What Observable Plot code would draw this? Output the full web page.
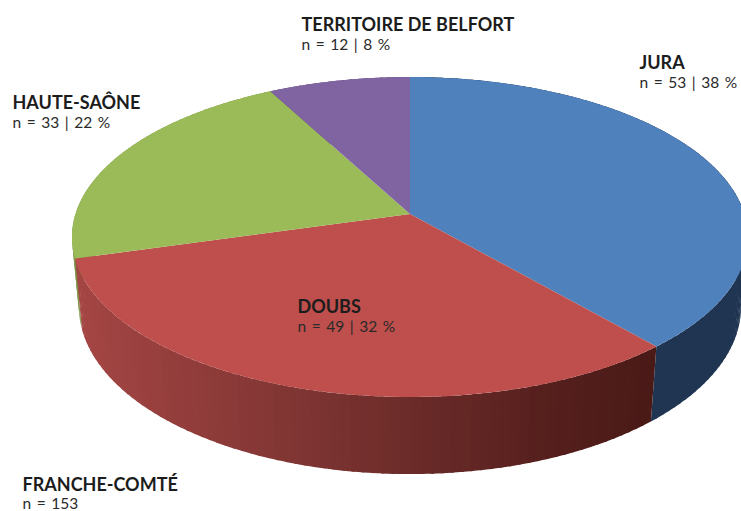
<!DOCTYPE html>
<html>
<head>
<meta charset="utf-8">
<script src="https://cdn.jsdelivr.net/npm/d3@7"></script>
<script src="https://cdn.jsdelivr.net/npm/@observablehq/plot@0.6"></script>
<style>
html,body{margin:0;padding:0;background:#fff;overflow:hidden}
svg{display:block}
.sub text{word-spacing:1.6px}
</style>
</head>
<body>
<div id="chart"></div>
<script>
// Slice order runs clockwise from twelve o'clock
const regions = ["JURA", "DOUBS", "HAUTE-SAÔNE", "TERRITOIRE DE BELFORT"];
const counts = [53, 49, 33, 12];
const printedPct = [38, 32, 22, 8];
const drawnShare = [38.6, 32, 21.6, 7.8]; // angular share as drawn in the picture
const topColors = ["#4F81BD", "#BE4F4C", "#9BBB59", "#8064A2"];
const totalLabel = "FRANCHE-COMTÉ";
const totalCount = 153;

// Perspective discs: top face and bottom face of the pie
const topDisc = {cx: 410, cy: 214, a: 334.5, b: 156.7, k: 0.144};
const lowDisc = {cx: 410, cy: 283, a: 327.7, b: 164, k: 0.1417};
function project(d, deg) {
  const t = deg * Math.PI / 180, u = Math.sin(t), v = Math.cos(t), w = 1 + d.k * v;
  return [d.cx + d.a * u / w, d.cy - d.b * v / w];
}

const cum = d3.cumsum(drawnShare);
const slices = regions.map((r, i) => ({
  region: r, color: topColors[i],
  a0: (i ? cum[i - 1] : 0) * 3.6, a1: cum[i] * 3.6
}));

const redShade = d3.scaleLinear().domain([80, 250, 400, 550, 650])
  .range(["#A54644", "#883937", "#6E2D2A", "#551F1D", "#4A1A17"]).clamp(true);
const sideShade = [() => "#1F3552", redShade, () => "#7C9645", () => "#5E4A78"];

// Top faces: a fan from the centre to the rim
const faceRows = slices.flatMap((s, i) => d3.range(0, 61).map(j => {
  const [x, y] = project(topDisc, s.a0 + (s.a1 - s.a0) * j / 60);
  return {id: i, color: s.color, x, y, cx: topDisc.cx, cy: topDisc.cy};
}));

// Side walls: thin quads between the two rims, each overlapping the next to hide seams
const wallRows = [];
[2, 3, 0, 1].forEach(i => {
  const s = slices[i], n = Math.ceil((s.a1 - s.a0) / 1.5);
  for (let j = n - 1; j >= 0; j--) {
    const step = (s.a1 - s.a0) / n;
    const a = s.a0 + step * j, b = Math.min(s.a1, a + step + 0.5);
    const mid = project(lowDisc, a + step / 2);
    const color = sideShade[i](mid[0]);
    for (const g of [a, (a + b) / 2, b]) {
      const [x1, y1] = project(topDisc, g), [x2, y2] = project(lowDisc, g);
      wallRows.push({id: i + "-" + j, color, x1, y1, x2, y2});
    }
  }
});

const font = "Lato, Carlito, Calibri, sans-serif";
function label(title, sub, dx, dy) {
  const base = {frameAnchor: "top-left", textAnchor: "start", lineAnchor: "middle", fontFamily: font, dx};
  return [
    Plot.text([title], {...base, text: d => d, dy, fontSize: 18, fontWeight: 700, fill: "#1c1c1c"}),
    Plot.text([sub], {...base, text: d => d, dy: dy + 19.5, fontSize: 15.5, fill: "#2a2a2a", className: "sub"})
  ];
}
const sub = i => `n = ${counts[i]} | ${printedPct[i]} %`;

const chart = Plot.plot({
  width: 741, height: 511,
  margin: 0,
  x: {domain: [0, 741], range: [0, 741], axis: null},
  y: {domain: [0, 511], range: [0, 511], axis: null},
  color: {type: "identity"},
  style: {background: "#fff"},
  marks: [
    Plot.area(wallRows, {x1: "x1", y1: "y1", x2: "x2", y2: "y2", z: "id", fill: "color"}),
    Plot.area(faceRows, {x1: "cx", y1: "cy", x2: "x", y2: "y", z: "id", fill: "color"}),
    ...label(regions[3], sub(3), 301, 25),
    ...label(regions[0], sub(0), 639, 63),
    ...label(regions[2], sub(2), 12, 103),
    ...label(regions[1], sub(1), 297, 307),
    ...label(totalLabel, `n = ${totalCount}`, 22, 484.5)
  ]
});
document.getElementById("chart").appendChild(chart);
</script>
</body>
</html>
